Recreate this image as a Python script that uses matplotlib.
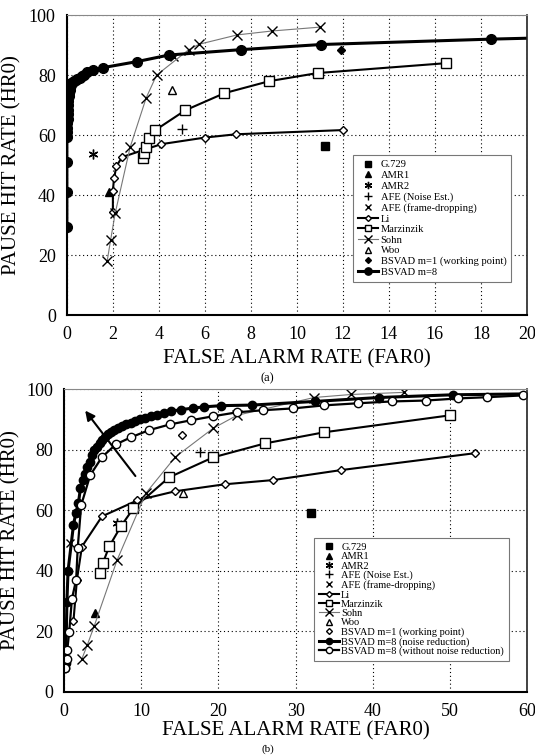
import matplotlib
matplotlib.use("Agg")
import matplotlib.pyplot as plt

plt.rcParams['font.family'] = ['Liberation Serif', 'DejaVu Serif']

# ---------------- (a) data ----------------
a_g729_far = [11.2]; a_g729_hr = [56.3]
a_amr1_far = [1.85]; a_amr1_hr = [41.0]
a_amr2_far = [1.15]; a_amr2_hr = [53.6]
a_afe_ne_far = [5.0]; a_afe_ne_hr = [62.2]
a_afe_fd_far = [4.65]; a_afe_fd_hr = [86.0]
a_li_far = [2.0, 2.0, 2.05, 2.15, 2.4, 4.1, 6.0, 7.35, 12.0]
a_li_hr = [34.5, 41.5, 45.6, 49.6, 52.7, 57.0, 59.2, 60.3, 61.7]
a_marz_far = [3.3, 3.35, 3.45, 3.55, 3.85, 5.15, 6.85, 8.8, 10.9, 16.5]
a_marz_hr = [52.3, 54.0, 56.0, 59.0, 61.7, 68.3, 74.0, 78.0, 80.7, 84.0]
a_sohn_far = [1.75, 1.9, 2.1, 2.75, 3.45, 3.9, 5.3, 5.75, 7.4, 8.9, 11.0]
a_sohn_hr = [18.0, 25.0, 34.0, 56.0, 72.5, 80.0, 88.5, 90.3, 93.4, 94.7, 96.0]
a_woo_far = [4.55]; a_woo_hr = [75.0]
a_bs1_far = [11.9]; a_bs1_hr = [88.3]
a_bs8_far = [0.0, 0.0, 0.0, 0.0, 0.0, 0.01, 0.02, 0.03, 0.04, 0.05, 0.06, 0.07, 0.08,
             0.1, 0.12, 0.14, 0.17, 0.2, 0.25, 0.3, 0.38, 0.45, 0.55, 0.65, 0.75,
             0.87, 1.15, 1.57, 3.04, 4.43, 7.57, 11.04, 18.43, 20.0]
a_bs8_hr = [29.5, 41.0, 51.0, 59.5, 61.0, 62.5, 64.0, 65.5, 67.0, 68.5, 70.0, 71.5, 73.0,
            74.0, 75.0, 76.0, 76.8, 77.3, 77.7, 78.0, 78.4, 78.8, 79.2, 79.6, 80.2,
            81.0, 81.6, 82.5, 84.5, 86.7, 88.5, 90.2, 92.0, 92.3]

# ---------------- (b) data ----------------
b_g729_far = [32.0]; b_g729_hr = [59.1]
b_amr1_far = [4.0]; b_amr1_hr = [26.0]
b_amr2_far = [6.9]; b_amr2_hr = [55.8]
b_afe_ne_far = [17.6]; b_afe_ne_hr = [79.2]
b_afe_fd_far = [0.75]; b_afe_fd_hr = [49.2]
b_li_far = [1.2, 1.65, 2.3, 4.9, 9.5, 14.4, 20.8, 27.1, 35.9, 53.3]
b_li_hr = [23.4, 37.0, 48.0, 58.0, 63.3, 66.3, 68.6, 70.0, 73.3, 78.9]
b_marz_far = [4.66, 5.0, 5.85, 7.35, 8.96, 13.6, 19.3, 26.0, 33.7, 50.0]
b_marz_hr = [39.2, 42.5, 48.1, 54.7, 60.6, 70.9, 77.5, 82.1, 85.8, 91.4]
b_sohn_far = [2.3, 3.0, 3.9, 6.85, 10.6, 14.4, 19.3, 22.4, 32.4, 37.2, 44.1]
b_sohn_hr = [10.9, 15.5, 21.8, 43.5, 65.7, 77.6, 87.1, 91.4, 97.3, 98.3, 99.0]
b_woo_far = [15.4]; b_woo_hr = [65.7]
b_bs1_far = [15.3]; b_bs1_hr = [84.8]
b_bsnr_far = [0.1, 0.2, 0.35, 0.5, 1.2, 1.5, 1.85, 2.1, 2.4, 2.7, 3.0, 3.4, 3.6, 3.9,
              4.3, 4.6, 4.9, 5.3, 5.7, 6.1, 6.5, 7.0, 7.5, 8.0, 8.6, 9.2, 9.8, 10.5,
              11.2, 12.0, 13.0, 13.9, 15.2, 16.7, 18.1, 20.3, 24.4, 32.5, 40.8, 50.4, 60.0]
b_bsnr_hr = [8.0, 9.5, 29.7, 40.0, 55.1, 59.0, 62.4, 67.3, 70.0, 71.9, 74.2, 75.9, 78.2,
             79.9, 80.9, 82.2, 83.4, 84.3, 85.1, 85.8, 86.5, 87.2, 87.8, 88.4, 89.0,
             89.6, 90.1, 90.6, 91.1, 91.6, 92.2, 92.8, 93.3, 93.8, 94.2, 94.6, 94.8,
             96.0, 97.3, 98.2, 98.5]
b_bsno_far = [0.1, 0.3, 0.4, 0.65, 1.0, 1.55, 1.75, 2.2, 3.37, 4.9, 6.7, 8.7, 11.0, 13.7,
              16.5, 19.3, 22.4, 25.8, 29.7, 33.7, 38.1, 42.5, 46.9, 51.1, 54.8, 59.5]
b_bsno_hr = [7.9, 10.9, 13.9, 19.8, 30.7, 37.0, 47.5, 61.7, 71.6, 77.6, 81.8, 84.2, 86.5,
             88.4, 89.8, 91.1, 92.4, 93.1, 93.7, 94.7, 95.4, 96.0, 96.3, 97.0, 97.4, 98.0]
b_arrow_from = (9.45, 70.6)
b_arrow_to = (2.5, 93.7)

ast = (6, 2, 0)

fig = plt.figure(figsize=(5.35, 7.56), dpi=100)
axA = fig.add_axes([0.125, 0.583, 0.86, 0.397])
axB = fig.add_axes([0.12, 0.085, 0.865, 0.40])


def style_axes(ax, xmax, xstep, ylab_x, xpad):
    ax.set_ylim(0, 100)
    ax.set_xlim(0, xmax)
    ax.set_yticks(range(0, 101, 20))
    ax.set_xticks(range(0, xmax + 1, xstep))
    ax.grid(True, color='black', linestyle=(0, (1, 2.5)), linewidth=0.8)
    ax.set_axisbelow(True)
    ax.tick_params(labelsize=13, length=0, pad=8)
    for s in ['left', 'bottom']:
        ax.spines[s].set_linewidth(1.5)
        ax.spines[s].set_color('black')
    ax.spines['top'].set_color('#888888')
    ax.spines['right'].set_color('#222222')
    ax.spines['right'].set_linewidth(1.2)
    ax.set_xlabel('FALSE ALARM RATE (FAR0)', fontsize=15, labelpad=xpad)
    ax.set_ylabel('PAUSE HIT RATE (HR0)', fontsize=15)
    ax.yaxis.set_label_coords(ylab_x, 0.5)


def add_legend(ax, anchor, fs, spacing):
    leg = ax.legend(loc='upper left', bbox_to_anchor=anchor, fontsize=fs,
                    frameon=True, fancybox=False, edgecolor='#777777', framealpha=1,
                    borderpad=0.45, labelspacing=spacing, handlelength=1.9,
                    handletextpad=0.25, markerscale=0.75, borderaxespad=0)
    leg.get_frame().set_linewidth(0.8)


# ---------- plot (a) ----------
ax = axA
ax.plot(a_g729_far, a_g729_hr, 's', color='black', ms=6, ls='none', label='G.729')
ax.plot(a_amr1_far, a_amr1_hr, '^', color='black', ms=6, ls='none', label='AMR1')
ax.plot(a_amr2_far, a_amr2_hr, marker=ast, color='black', ms=7, mew=1, ls='none', label='AMR2')
ax.plot(a_afe_ne_far, a_afe_ne_hr, '+', color='black', ms=7, mew=1, ls='none', label='AFE (Noise Est.)')
ax.plot(a_afe_fd_far, a_afe_fd_hr, 'x', color='black', ms=6, mew=1, ls='none', label='AFE (frame-dropping)')
ax.plot(a_li_far, a_li_hr, '-', marker='D', color='black', mfc='white', ms=4, lw=1.5, label='Li')
ax.plot(a_marz_far, a_marz_hr, '-', marker='s', color='black', mfc='white', ms=6.5, lw=1.5, label='Marzinzik')
ax.plot(a_sohn_far, a_sohn_hr, '-', marker='x', color='#777777', mec='black', ms=7, mew=1, lw=0.8, label='Sohn')
ax.plot(a_woo_far, a_woo_hr, '^', color='black', mfc='white', ms=6, ls='none', label='Woo')
ax.plot(a_bs1_far, a_bs1_hr, 'D', color='black', ms=4, ls='none', label='BSVAD m=1 (working point)')
ax.plot(a_bs8_far, a_bs8_hr, '-', marker='o', color='black', ms=7, lw=2.2,
        markevery=list(range(len(a_bs8_far) - 1)), label='BSVAD m=8')
style_axes(ax, 20, 2, -0.098, 4)
add_legend(ax, (0.622, 0.533), 7.6, 0.12)
fig.text(0.5, 1 - 378 / 756, '(a)', ha='center', va='center', fontsize=9)

# ---------- plot (b) ----------
ax = axB
ax.plot(b_g729_far, b_g729_hr, 's', color='black', ms=6, ls='none', label='G.729')
ax.plot(b_amr1_far, b_amr1_hr, '^', color='black', ms=6, ls='none', label='AMR1')
ax.plot(b_amr2_far, b_amr2_hr, marker=ast, color='black', ms=7, mew=1, ls='none', label='AMR2')
ax.plot(b_afe_ne_far, b_afe_ne_hr, '+', color='black', ms=7, mew=1, ls='none', label='AFE (Noise Est.)')
ax.plot(b_afe_fd_far, b_afe_fd_hr, 'x', color='black', ms=6, mew=1, ls='none', label='AFE (frame-dropping)')
ax.plot(b_li_far, b_li_hr, '-', marker='D', color='black', mfc='white', ms=4, lw=1.5, label='Li')
ax.plot(b_marz_far, b_marz_hr, '-', marker='s', color='black', mfc='white', ms=6.5, lw=1.5, label='Marzinzik')
ax.plot(b_sohn_far, b_sohn_hr, '-', marker='x', color='#777777', mec='black', ms=7, mew=1, lw=0.8, label='Sohn')
ax.plot(b_woo_far, b_woo_hr, '^', color='black', mfc='white', ms=6, ls='none', label='Woo')
ax.plot(b_bs1_far, b_bs1_hr, 'D', color='black', mfc='white', ms=4, ls='none', label='BSVAD m=1 (working point)')
ax.plot(b_bsnr_far, b_bsnr_hr, '-', marker='o', color='black', ms=6, lw=2.2,
        markevery=list(range(len(b_bsnr_far) - 1)), label='BSVAD m=8 (noise reduction)')
ax.plot(b_bsno_far, b_bsno_hr, '-', marker='o', color='black', mfc='white', ms=6, lw=1.6,
        label='BSVAD m=8 (without noise reduction)')
ax.annotate('', xy=b_arrow_to, xytext=b_arrow_from,
            arrowprops=dict(arrowstyle='-|>', color='black', lw=1.5, mutation_scale=14))
style_axes(ax, 60, 10, -0.095, 1)
add_legend(ax, (0.54, 0.508), 7.5, 0.0)
fig.text(0.5, 1 - 749 / 756, '(b)', ha='center', va='center', fontsize=8)

fig.savefig('out.png', dpi=100)
